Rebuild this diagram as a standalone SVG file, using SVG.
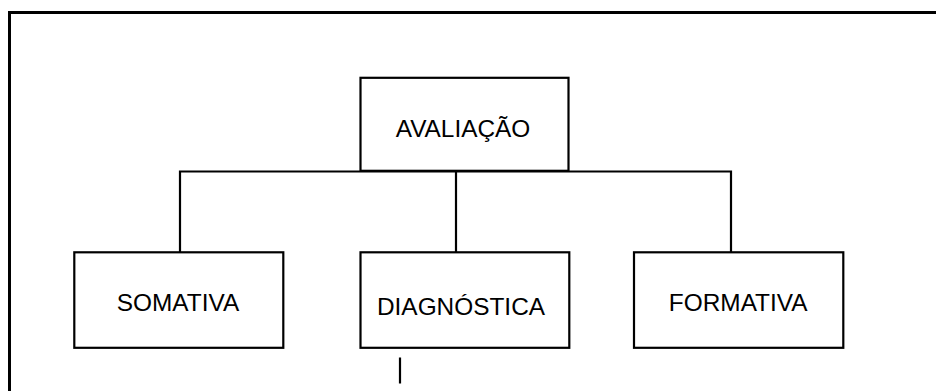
<svg xmlns="http://www.w3.org/2000/svg" width="936" height="391" viewBox="0 0 936 391">
  <style>
    .box { fill: #ffffff; stroke: #000000; stroke-width: 2.2; }
    .link { fill: none; stroke: #000000; stroke-width: 2.2; }
    .frame { fill: none; stroke: #000000; stroke-width: 3; }
    .label { font-family: "Liberation Sans", Arial, sans-serif; font-size: 24.4px; fill: #000000; text-anchor: middle; }
  </style>
  <rect width="936" height="391" fill="#ffffff"/>

  <!-- outer frame (open to the right and bottom) -->
  <path class="frame" d="M9.5,391 V12.5 H936"/>

  <!-- tree connectors -->
  <g id="connectors">
    <path class="link" d="M180,252 V171.5 H731 V252"/>
    <path class="link" d="M456,171.5 V252"/>
    <path class="link" d="M400,357.5 V383.5"/>
  </g>

  <g id="avaliacao">
    <rect class="box" x="360.5" y="77.8" width="208" height="93"/>
    <text class="label" x="463" y="136.7">AVALIAÇÃO</text>
  </g>

  <g id="somativa">
    <rect class="box" x="74.3" y="252.3" width="209" height="95.5"/>
    <text class="label" x="178" y="310.7">SOMATIVA</text>
  </g>

  <g id="diagnostica">
    <rect class="box" x="360.5" y="252.3" width="208.8" height="95.5"/>
    <text class="label" x="461" y="315">DIAGNÓSTICA</text>
  </g>

  <g id="formativa">
    <rect class="box" x="634" y="252.3" width="209.3" height="95.5"/>
    <text class="label" x="738.2" y="310.7">FORMATIVA</text>
  </g>
</svg>
